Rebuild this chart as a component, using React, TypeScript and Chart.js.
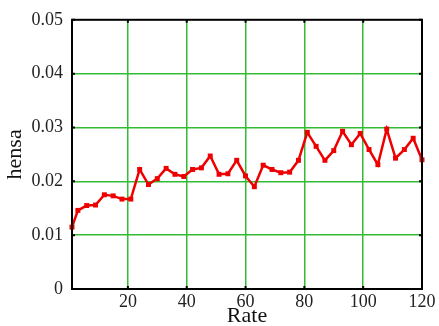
import React, { useEffect, useRef } from "react";
import { Chart, registerables } from "chart.js";

Chart.register(...registerables);

const rates = [1, 3, 6, 9, 12, 15, 18, 21, 24, 27, 30, 33, 36, 39, 42, 45, 48, 51, 54, 57, 60, 63, 66, 69, 72, 75, 78, 81, 84, 87, 90, 93, 96, 99, 102, 105, 108, 111, 114, 117, 120];
const hensa = [
  0.0115, 0.0146, 0.0155, 0.0156, 0.0175, 0.0173, 0.0167, 0.0167, 0.0222, 0.0194,
  0.0205, 0.0224, 0.0213, 0.0209, 0.0222, 0.0225, 0.0247, 0.0213, 0.0214, 0.0239,
  0.021, 0.019, 0.023, 0.0222, 0.0216, 0.0217, 0.0239, 0.0291, 0.0265, 0.0239,
  0.0257, 0.0293, 0.0268, 0.0289, 0.0259, 0.0231, 0.0297, 0.0243, 0.0259, 0.028,
  0.024,
];
const xTicks = [20, 40, 60, 80, 100, 120];
const yTicks = [0, 0.01, 0.02, 0.03, 0.04, 0.05];
const yTickLabels = ["0", "0.01", "0.02", "0.03", "0.04", "0.05"];

const FONT = "'Liberation Serif', 'DejaVu Serif', serif";

const framePlugin = {
  id: "frame",
  afterDatasetsDraw(chart: any) {
    const { ctx, chartArea: a, scales } = chart;
    ctx.save();
    ctx.strokeStyle = "#000";
    ctx.lineWidth = 2;
    ctx.beginPath();
    for (const v of xTicks) {
      const x = scales.x.getPixelForValue(v);
      ctx.moveTo(x, a.top); ctx.lineTo(x, a.top + 3);
      ctx.moveTo(x, a.bottom); ctx.lineTo(x, a.bottom - 3);
    }
    for (const v of yTicks) {
      const y = scales.y.getPixelForValue(v);
      ctx.moveTo(a.left, y); ctx.lineTo(a.left + 3, y);
      ctx.moveTo(a.right, y); ctx.lineTo(a.right - 3, y);
    }
    ctx.stroke();
    ctx.strokeRect(a.left, a.top, a.right - a.left, a.bottom - a.top);
    ctx.restore();
  },
};

export default function App() {
  const ref = useRef<HTMLCanvasElement>(null);
  useEffect(() => {
    if (!ref.current) return;
    const chart = new Chart(ref.current, {
      type: "line",
      data: {
        datasets: [
          {
            data: rates.map((r, i) => ({ x: r, y: hensa[i] })),
            borderColor: "#ee0000",
            backgroundColor: "#ee0000",
            borderWidth: 2.5,
            pointStyle: "rect",
            pointRadius: 3.5,
            pointBorderWidth: 0,
            fill: false,
            tension: 0,
          },
        ],
      },
      options: {
        animation: false,
        responsive: false,
        clip: false as any,
        layout: { padding: { top: 18, right: 17, left: 0, bottom: 0 } },
        plugins: { legend: { display: false }, tooltip: { enabled: false } },
        scales: {
          x: {
            type: "linear",
            min: 1,
            max: 120,
            afterBuildTicks: (s: any) => {
              s.ticks = xTicks.map((v) => ({ value: v }));
            },
            afterFit: (s: any) => {
              s.height = 37;
            },
            grid: {
              color: (c: any) => (c.tick && c.tick.value < 120 ? "#33bb33" : "rgba(0,0,0,0)"),
              lineWidth: 1.5,
              drawTicks: false,
            },
            border: { display: false },
            ticks: {
              color: "#222",
              font: { family: FONT, size: 18 },
              padding: 2,
              maxRotation: 0,
              autoSkip: false,
            },
            title: {
              display: true,
              text: "Rate",
              color: "#111",
              font: { family: FONT, size: 22, lineHeight: 0.85 },
              padding: { top: 0, bottom: 0 },
            },
          },
          y: {
            type: "linear",
            min: 0,
            max: 0.05,
            afterBuildTicks: (s: any) => {
              s.ticks = yTicks.map((v) => ({ value: v }));
            },
            afterFit: (s: any) => {
              s.width = 72;
            },
            grid: {
              color: (c: any) =>
                c.tick && c.tick.value > 0.001 && c.tick.value < 0.049 ? "#33bb33" : "rgba(0,0,0,0)",
              lineWidth: 1.5,
              drawTicks: false,
            },
            border: { display: false },
            ticks: {
              color: "#222",
              font: { family: FONT, size: 18 },
              padding: 9,
              autoSkip: false,
              callback: (v: any) => {
                const i = yTicks.findIndex((t) => Math.abs(t - v) < 1e-9);
                return i >= 0 ? yTickLabels[i] : "";
              },
            },
            title: {
              display: true,
              text: "hensa",
              color: "#111",
              font: { family: FONT, size: 22 },
              padding: { top: 2, bottom: 0 },
            },
          },
        },
      },
      plugins: [framePlugin],
    });
    return () => chart.destroy();
  }, []);
  return (
    <div style={{ position: "fixed", left: 0, top: 0, width: 439, height: 326, background: "#fff" }}>
      <canvas ref={ref} width={439} height={326} style={{ display: "block" }} />
    </div>
  );
}
